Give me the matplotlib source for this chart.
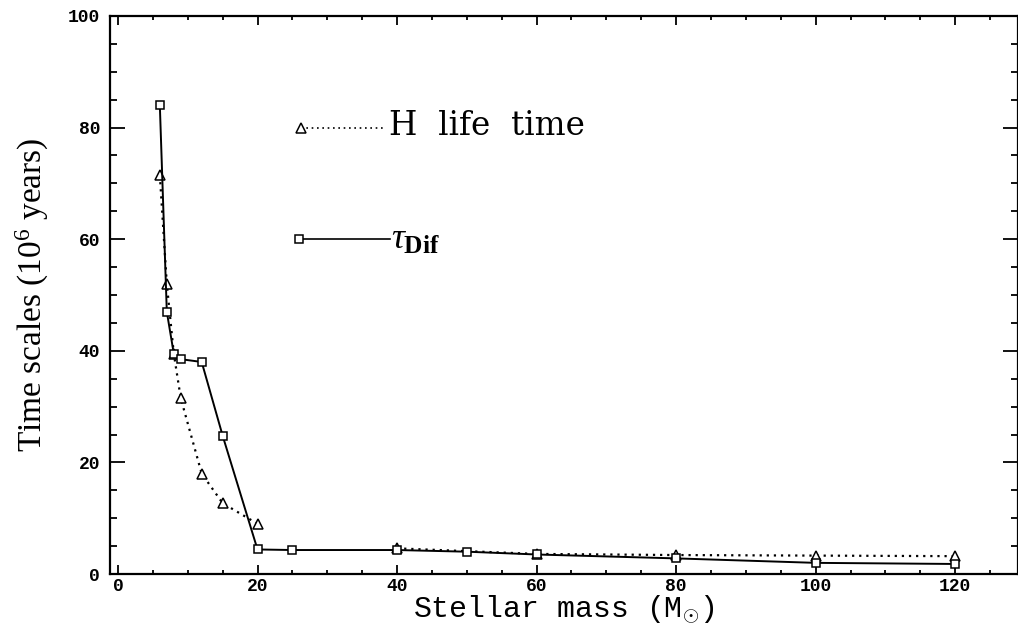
import matplotlib
matplotlib.use("Agg")
import matplotlib.pyplot as plt
from matplotlib.ticker import MultipleLocator

# stellar masses (M_sun) and time scales (10^6 yr)
mass_h = [6, 7, 8, 9, 12, 15, 20, 40, 60, 80, 100, 120]
h_life = [71.5, 52.0, 39.5, 31.5, 18.0, 12.7, 9.0, 4.6, 3.6, 3.4, 3.3, 3.2]

mass_dif = [6, 7, 8, 9, 12, 15, 20, 25, 40, 50, 60, 80, 100, 120]
tau_dif = [84.0, 47.0, 39.5, 38.5, 38.0, 24.8, 4.4, 4.3, 4.3, 4.0, 3.5, 2.8, 2.0, 1.8]

plt.rcParams["mathtext.fontset"] = "custom"
plt.rcParams["mathtext.rm"] = "Liberation Serif"
plt.rcParams["mathtext.it"] = "Liberation Serif:italic"
plt.rcParams["mathtext.bf"] = "Liberation Serif:bold"

fig = plt.figure(figsize=(10.18, 6.27), dpi=100)
ax = fig.add_axes([0.108, 0.0845, 0.892, 0.890])

# H burning lifetime: dotted, broken between 20 and 40 Msun
tri = dict(marker="^", ms=6.5, mfc="white", mec="black", mew=1.1, color="black")
ax.plot(mass_h[:7], h_life[:7], ls=(0, (1, 2.2)), lw=1.6, **tri)
ax.plot(mass_h[7:], h_life[7:], ls=(0, (1, 2.2)), lw=1.6, **tri)

# diffusion time scale: solid
sq = dict(marker="s", ms=6, mfc="white", mec="black", mew=1.1, color="black")
ax.plot(mass_dif, tau_dif, ls="-", lw=1.4, **sq)

# hand placed key
ax.plot([26.2, 38.3], [80, 80], ls=(0, (1, 2.2)), lw=1.2, color="black")
ax.plot([26.2], [80], ls="none", **tri)
ax.text(38.8, 80.3, "H  life  time", family="DejaVu Serif", fontsize=23.5,
        va="center", ha="left")
ax.plot([25.9, 39.0], [60, 60], ls="-", lw=1.2, color="black")
ax.plot([25.9], [60], ls="none", **sq)
ax.text(39.2, 60.0, r"$\mathit{\tau}_{\mathbf{Dif}}$", fontsize=26,
        va="center", ha="left")

ax.set_xlim(-1.15, 129.0)
ax.set_ylim(0, 100)
ax.xaxis.set_major_locator(MultipleLocator(20))
ax.xaxis.set_minor_locator(MultipleLocator(5))
ax.yaxis.set_major_locator(MultipleLocator(20))
ax.yaxis.set_minor_locator(MultipleLocator(5))

ax.tick_params(axis="both", which="both", direction="in", top=True, right=True,
               width=1.3)
ax.tick_params(axis="x", which="major", length=6.5, pad=3)
ax.tick_params(axis="x", which="minor", length=3.2)
ax.tick_params(axis="y", which="major", length=10.5, pad=7)
ax.tick_params(axis="y", which="minor", length=5)

for lab in ax.get_xticklabels() + ax.get_yticklabels():
    lab.set_family("Liberation Mono")
    lab.set_fontweight("bold")
    lab.set_fontsize(13)

for s in ax.spines.values():
    s.set_linewidth(1.6)

ax.set_xlabel(r"Stellar mass (M$_{\odot}$)", family="Liberation Mono",
              fontsize=21.5, labelpad=-1)
ax.set_ylabel(r"Time scales (10$^{6}$ years)", family="Liberation Serif",
              fontsize=24, labelpad=12)

fig.savefig("out.png", dpi=100)
